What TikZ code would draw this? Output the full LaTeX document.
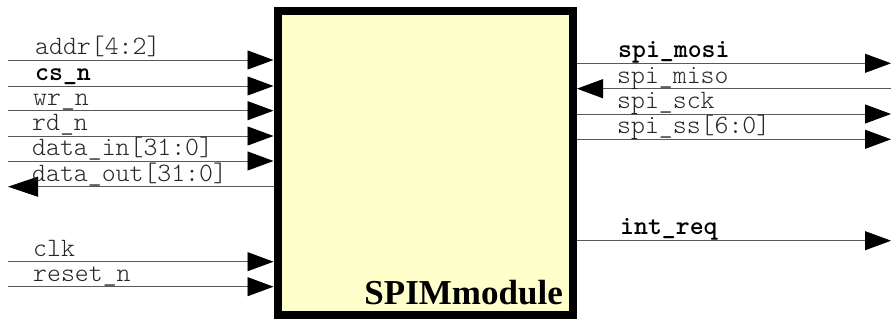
\documentclass[tikz,border=0pt]{standalone}
\usepackage{fontspec}
\usetikzlibrary{arrows.meta,shadows}
\newfontfamily\sigfont{Latin Modern Mono Light}
\newfontfamily\titlefont{Liberation Serif}
\begin{document}
\begin{tikzpicture}[x=1pt,y=-1pt,
  sig/.style={draw=black!65, line width=0.9pt},
  tip/.style={-{Triangle[length=26pt,width=19pt,color=black]}},
  lbl/.style={anchor=base west, inner sep=0pt, text=black!85,
    font=\sigfont\fontsize{26.5}{29}\selectfont},
  blbl/.style={lbl, text=black, font=\sigfont\bfseries\fontsize{26.5}{29}\selectfont},
  modbox/.style={draw=black, line width=8pt, fill={rgb,255:red,255;green,255;blue,204},
    minimum width=295.5pt, minimum height=304pt, inner sep=0pt,
    drop shadow={shadow xshift=2pt, shadow yshift=-2pt, fill=black!40, opacity=0.6}}]
\useasboundingbox (0,0) rectangle (891,320);

% module body
\node[modbox] (spim) at (425.25,163) {};
\node[anchor=base east, inner sep=0pt,
  font=\titlefont\bfseries\fontsize{35}{40}\selectfont] (title) at (563,305) {SPIMmodule};

% free ends of the left-hand signals
\coordinate (addrL) at (8,60);
\coordinate (csL)   at (8,86);
\coordinate (wrL)   at (8,110.7);
\coordinate (rdL)   at (8,136);
\coordinate (dinL)  at (8,161);
\coordinate (doutL) at (8,186.7);
\coordinate (clkL)  at (8,261.7);
\coordinate (rstL)  at (8,286.7);

% free ends of the right-hand signals
\coordinate (mosiR) at (891,63.3);
\coordinate (misoR) at (891,88.7);
\coordinate (sckR)  at (891,114);
\coordinate (ssR)   at (891,139.3);
\coordinate (intR)  at (891,240.7);

% inputs
\foreach \c in {addrL,csL,wrL,rdL,dinL,clkL,rstL}
  \draw[sig,tip] (\c) -- (\c -| spim.west);
% output on the left
\draw[sig,-{Triangle[length=30pt,width=20pt,color=black]}] (doutL -| spim.west) -- (doutL);
% outputs on the right
\foreach \c in {mosiR,sckR,ssR,intR}
  \draw[sig,tip] (\c -| spim.east) -- (\c);
% input on the right
\draw[sig,tip] (misoR) -- (misoR -| spim.east);

% left labels
\node[lbl]  (addrT) at (35,55)    {addr[4:2]};
\node[blbl] (csT)   at (35,80.5)  {cs\_n};
\node[lbl]  (wrT)   at (33,105.5) {wr\_n};
\node[lbl]  (rdT)   at (32,131)   {rd\_n};
\node[lbl]  (dinT)  at (32,156)   {data\_in[31:0]};
\node[lbl]  (doutT) at (32,181.5) {data\_out[31:0]};
\node[lbl]  (clkT)  at (33,256.5) {clk};
\node[lbl]  (rstT)  at (33,281.5) {reset\_n};

% right labels
\node[blbl] (mosiT) at (618,57.5)  {spi\_mosi};
\node[lbl]  (misoT) at (617,83.5)  {spi\_miso};
\node[lbl]  (sckT)  at (617,108.5) {spi\_sck};
\node[lbl]  (ssT)   at (617,134)   {spi\_ss[6:0]};
\node[blbl] (intT)  at (620,235)   {int\_req};
\end{tikzpicture}
\end{document}
